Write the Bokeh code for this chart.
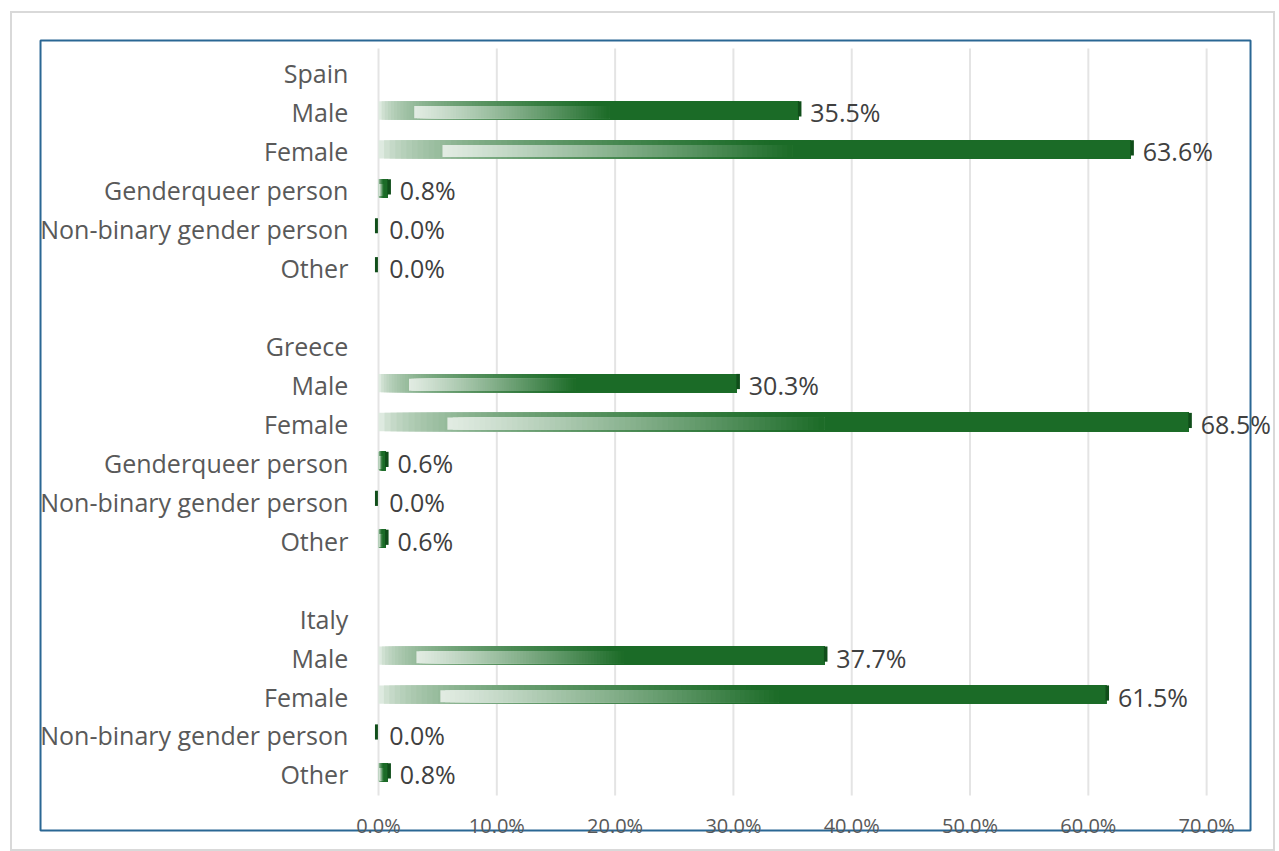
from bokeh.plotting import figure
from bokeh.models import Range1d, FixedTicker, PrintfTickFormatter, ColumnDataSource
from bokeh.core.properties import value
from bokeh.embed import file_html
from bokeh.resources import INLINE

# ---------------- data ----------------
countries = ["Spain", "Greece", "Italy"]
spain_cats = ["Male", "Female", "Genderqueer person", "Non-binary gender person", "Other"]
spain_vals = [35.5, 63.6, 0.8, 0.0, 0.0]
greece_cats = ["Male", "Female", "Genderqueer person", "Non-binary gender person", "Other"]
greece_vals = [30.3, 68.5, 0.6, 0.0, 0.6]
italy_cats = ["Male", "Female", "Non-binary gender person", "Other"]
italy_vals = [37.7, 61.5, 0.0, 0.8]
x_ticks = [0, 10, 20, 30, 40, 50, 60, 70]

groups = [(countries[0], spain_cats, spain_vals),
          (countries[1], greece_cats, greece_vals),
          (countries[2], italy_cats, italy_vals)]

# build rows (header row per country, blank row between groups)
row_labels, row_y, bar_y, bar_v = [], [], [], []
r = 0
for gi, (cn, cats, vals) in enumerate(groups):
    row_labels.append(cn); row_y.append(r); r += 1
    for c, v in zip(cats, vals):
        row_labels.append(c); row_y.append(r)
        bar_y.append(r); bar_v.append(v)
        r += 1
    if gi < len(groups) - 1:
        r += 1

DARK = (27, 107, 39)
CAP = (16, 78, 26)

def mix(c1, c2, t):
    return "#%02x%02x%02x" % tuple(int(round(a + (b - a) * t)) for a, b in zip(c1, c2))

p = figure(width=1265, height=840, output_backend="svg", toolbar_location=None,
           x_range=Range1d(-28.91, 75.99), y_range=Range1d(19.543, -0.950),
           min_border_left=24, min_border_right=0, min_border_top=23, min_border_bottom=19)
p.styles = {"border": "2px solid #d9d9d9", "box-sizing": "border-box",
            "margin-left": "10px", "margin-top": "11px"}
p.outline_line_color = None
p.background_fill_color = "white"
p.border_fill_color = "white"
p.xgrid.visible = False
p.ygrid.visible = False
p.yaxis.visible = False

# x axis: labels pulled up onto the bottom border of the chart box
p.xaxis.ticker = FixedTicker(ticks=x_ticks)
p.xaxis.formatter = PrintfTickFormatter(format="%.1f%%")
p.xaxis.axis_line_color = None
p.xaxis.major_tick_line_color = None
p.xaxis.minor_tick_line_color = None
p.xaxis.major_tick_out = 0
p.xaxis.major_label_standoff = -23
p.xaxis.major_label_text_font = "Open Sans"
p.xaxis.major_label_text_font_size = "20px"
p.xaxis.major_label_text_color = "#595959"

# gridlines
p.segment(x0=x_ticks, x1=x_ticks, y0=[-0.64] * len(x_ticks), y1=[18.54] * len(x_ticks),
          line_color="#e4e4e4", line_width=2)

# blue chart box
p.quad(left=[-28.57], right=[73.71], top=[-0.847], bottom=[19.44],
       fill_color=None, line_color="#2a6794", line_width=2)

# bars with simulated gradient (overlapping slices, drawn left to right)
H = 0.47
OFF = -0.05
N = 70
ol, orr, ot, ob, oc = [], [], [], [], []
for y, v in zip(bar_y, bar_v):
    top = y + OFF - H / 2
    bot = y + OFF + H / 2
    if v > 0:
        g_end = 0.52 * v
        for k in range(N):
            x0 = g_end * k / N
            t = ((k + 0.5) / N) ** 0.45
            ol.append(x0); orr.append(v); ot.append(top); ob.append(bot)
            oc.append(mix((246, 249, 246), DARK, t))
        ol.append(g_end); orr.append(v); ot.append(top); ob.append(bot); oc.append(mix(DARK, DARK, 0))
        i_start = 0.085 * v
        i_end = 0.55 * v
        itop = top + 0.26 * H
        ibot = bot - 0.08 * H
        for k in range(N):
            x0 = i_start + (i_end - i_start) * k / N
            t = ((k + 0.5) / N) ** 1.1
            ol.append(x0); orr.append(i_end); ot.append(itop); ob.append(ibot)
            oc.append(mix((226, 236, 227), DARK, t))
    ol.append(v - 0.05 if v > 0 else -0.3); orr.append(v + 0.25 if v > 0 else -0.05)
    ot.append(top); ob.append(bot - 0.08)
    oc.append(mix(CAP, CAP, 0))

bars = ColumnDataSource(dict(left=ol, right=orr, top=ot, bottom=ob, color=oc))
p.quad(left="left", right="right", top="top", bottom="bottom", fill_color="color",
       line_color=None, source=bars)

# value labels
lab_x = [v + 1.0 if v > 0 else 0.9 for v in bar_v]
lab_t = ["%.1f%%" % v for v in bar_v]
p.text(x=lab_x, y=bar_y, text=lab_t, text_font=value("Open Sans"), text_font_size="25px",
       text_color="#404040", text_baseline="middle", text_align="left")

# category / country labels
p.text(x=[-2.55] * len(row_labels), y=row_y, text=row_labels, text_font=value("Open Sans"),
       text_font_size="25px", text_color="#595959", text_baseline="middle", text_align="right")

open("out.html", "w").write(file_html(p, INLINE))
